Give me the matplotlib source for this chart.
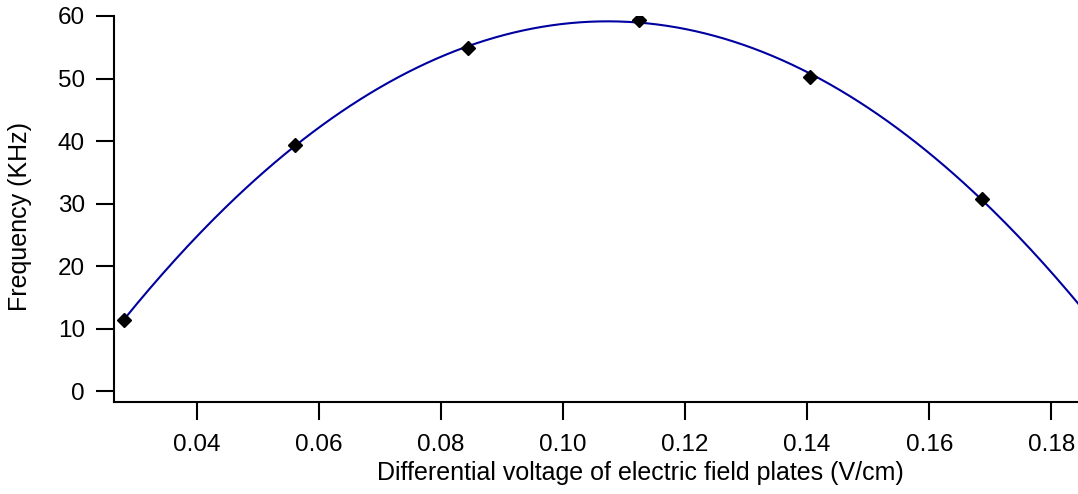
import matplotlib
matplotlib.use('Agg')
import matplotlib.pyplot as plt
import numpy as np

# measured points
voltage = [0.0281, 0.0561, 0.0844, 0.1125, 0.1405, 0.1687]
frequency = [11.4, 39.4, 54.9, 59.4, 50.3, 30.7]

x_ticks = [0.04, 0.06, 0.08, 0.10, 0.12, 0.14, 0.16, 0.18]
y_ticks = [0, 10, 20, 30, 40, 50, 60]


def main():
    plt.rcParams['font.family'] = ['Liberation Sans', 'DejaVu Sans']
    fig = plt.figure(figsize=(10.78, 4.94), dpi=100)
    ax = fig.add_axes([114 / 1078, 92.3 / 494, 1 - 114 / 1078, 385.7 / 494])

    # quadratic fit through the measurements
    coef = np.polyfit(voltage, frequency, 2)
    xfit = np.linspace(voltage[0], 0.1845, 300)
    ax.plot(xfit, np.polyval(coef, xfit), color='#0000a0', lw=1.5)
    ax.plot(voltage, frequency, 'D', color='black', ms=7)

    ax.set_xlim(0.02644, 0.18438)
    ax.set_ylim(-1.7, 60)
    ax.set_xticks(x_ticks)
    ax.set_xticklabels(['%.2f' % t for t in x_ticks])
    ax.set_yticks(y_ticks)

    for side in ['top', 'right']:
        ax.spines[side].set_visible(False)
    ax.spines['left'].set_bounds(-1.7, 60)
    for side in ['left', 'bottom']:
        ax.spines[side].set_linewidth(1.5)
    ax.tick_params(direction='out', length=13, width=1.5, labelsize=17.5,
                   pad=8)
    ax.tick_params(axis='x', pad=10)

    ax.set_xlabel('Differential voltage of electric field plates (V/cm)',
                  fontsize=18)
    ax.set_ylabel('Frequency (KHz)', fontsize=18)
    ax.xaxis.set_label_coords(0.5456, -0.155)
    ax.yaxis.set_label_coords(-0.085, 0.479)

    fig.savefig('out.png', dpi=100)


if __name__ == "__main__":
    main()
